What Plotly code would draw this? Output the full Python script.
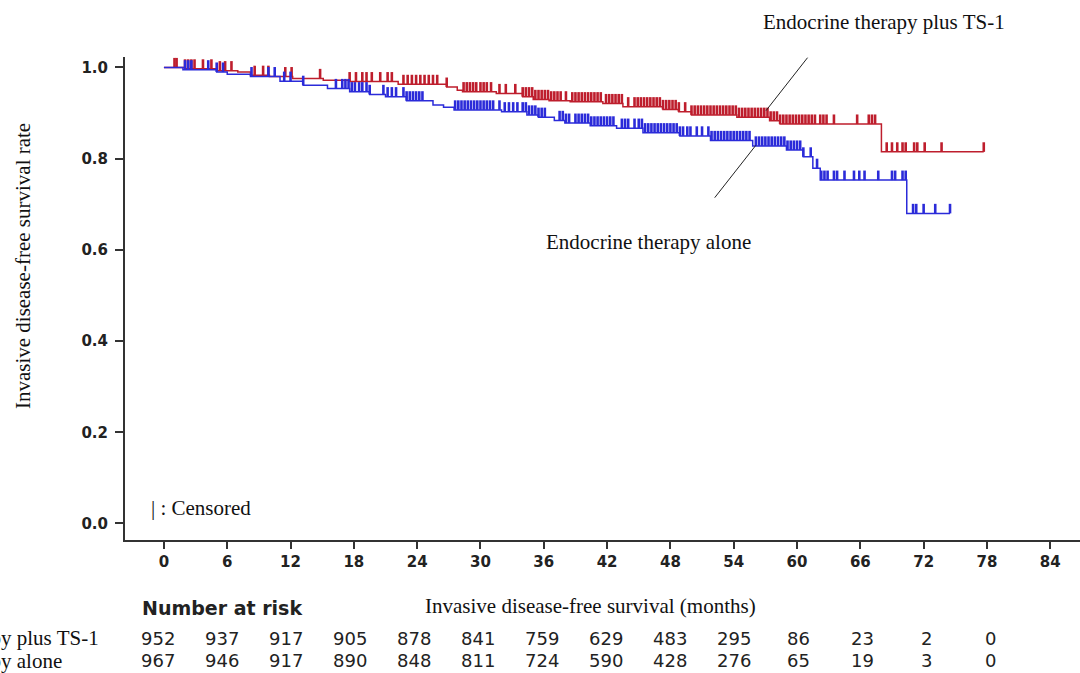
import plotly.graph_objects as go

# ---------------- data ----------------
# Kaplan-Meier step functions: time of each step (months) and survival after it
ts1_times = [0, 2.0, 5.0, 7.0, 8.2, 10.0, 12.2, 15.1, 17.6, 22.2, 26.8, 27.8, 28.3,
             31.5, 34.0, 35.0, 36.5, 38.5, 41.6, 43.5, 47.3, 48.8, 50.0, 54.3,
             57.4, 58.4, 68.0]
ts1_surv = [1.0, 0.997, 0.993, 0.990, 0.983, 0.980, 0.976, 0.972, 0.969, 0.963,
            0.957, 0.950, 0.947, 0.943, 0.936, 0.930, 0.927, 0.925, 0.921, 0.914,
            0.908, 0.903, 0.896, 0.891, 0.883, 0.876, 0.815]
ts1_last = 77.7

alone_times = [0, 1.8, 5.0, 6.0, 8.2, 11.0, 13.2, 15.5, 17.6, 19.5, 21.0, 23.0,
               25.5, 26.5, 27.5, 32.0, 34.4, 35.5, 37.0, 38.0, 40.4, 42.9, 45.4,
               48.9, 51.8, 55.8, 59.0, 60.6, 61.5, 62.2, 70.4]
alone_surv = [1.0, 0.995, 0.990, 0.985, 0.980, 0.970, 0.961, 0.954, 0.947, 0.941,
              0.936, 0.927, 0.918, 0.913, 0.907, 0.903, 0.896, 0.891, 0.884, 0.878,
              0.872, 0.867, 0.857, 0.850, 0.840, 0.828, 0.819, 0.804, 0.779, 0.753,
              0.680]
alone_last = 74.5

# censoring times (months)
ts1_censor = [1.0, 1.2, 2.0, 2.3, 2.6, 2.9, 3.7, 4.5, 5.3, 5.8, 6.4, 8.6, 9.4, 9.9,
              11.5, 12.1, 14.8, 17.6, 18.2, 18.8, 19.2, 19.7, 20.5, 21.2, 21.6,
              22.7, 23.1, 23.5, 23.9, 24.3, 24.7, 25.1, 25.5, 25.9, 26.8, 28.4, 28.7,
              29.0, 29.3, 29.6, 30.0, 30.3, 30.6, 31.0, 31.8, 32.4, 33.3, 34.0,
              34.3, 34.6, 34.9, 35.2, 35.5, 35.8, 36.1, 36.4, 36.7, 37.0, 37.3, 37.6,
              38.1, 38.7, 39.0, 39.3, 39.6, 39.9, 40.2, 40.5, 40.8, 41.1, 41.4,
              41.9, 42.2, 42.5, 42.8, 43.1, 43.4, 44.0, 44.6, 44.9, 45.2, 45.5, 45.8,
              46.1, 46.4, 46.7, 47.0, 47.3, 47.6, 47.9, 48.2, 48.5, 48.8, 49.4,
              50.0, 50.3, 50.6, 50.9, 51.2, 51.5, 51.8, 52.1, 52.4, 52.7, 53.0, 53.3,
              53.6, 53.9, 54.2, 54.5, 54.8, 55.1, 55.4, 55.7, 56.0, 56.3, 56.6, 56.9,
              57.2, 57.5, 57.8, 58.1, 58.4, 58.7, 59.0, 59.3, 59.6, 59.9, 60.2, 60.5,
              60.8, 61.1, 61.4, 61.7, 62.2, 62.5, 62.8, 63.5, 65.7, 66.8, 67.1, 67.4,
              68.5, 69.0, 69.5, 70.0, 70.3, 71.1, 71.4, 72.1, 73.7, 77.7]
alone_censor = [2.0, 2.3, 2.6, 4.2, 5.0, 5.6, 8.3, 9.9, 10.5, 11.4, 12.0, 13.2, 16.3,
                16.9, 17.2, 17.5, 17.8, 18.1, 18.5, 18.8, 19.2, 19.5, 20.8, 21.2,
                21.6, 22.0, 22.7, 23.0, 23.3, 23.6, 23.9, 24.2, 24.5, 27.6, 27.9,
                28.2, 28.5, 28.8, 29.1, 29.4, 29.7, 30.0, 30.3, 30.6, 30.9, 31.2,
                31.8, 32.3, 32.7, 33.1, 33.5, 34.0, 34.3, 34.6, 34.9, 35.2, 35.5,
                35.8, 36.1, 37.5, 37.8, 38.1, 38.4, 39.0, 39.3, 39.6, 39.9, 40.2,
                40.5, 40.8, 41.1, 41.4, 41.7, 42.0, 42.3, 42.6, 43.4, 43.7, 44.0,
                44.6, 45.0, 45.3, 45.6, 45.9, 46.2, 46.5, 46.8, 47.1, 47.4, 47.7,
                48.0, 48.3, 48.6, 48.9, 49.2, 49.6, 49.9, 50.5, 51.0, 51.6, 51.9,
                52.2, 52.5, 52.8, 53.1, 53.4, 53.7, 54.0, 54.3, 54.6, 54.9, 55.2,
                55.5, 56.1, 56.4, 56.7, 57.0, 57.3, 57.6, 57.9, 58.2, 58.5, 58.8,
                59.1, 59.4, 59.7, 60.0, 60.3, 60.6, 61.3, 61.9, 62.3, 62.6, 62.9,
                63.5, 63.8, 64.5, 65.4, 65.9, 66.4, 67.7, 69.0, 69.3, 70.0, 70.3,
                71.0, 71.3, 72.0, 73.1, 74.5]

x_ticks = [0, 6, 12, 18, 24, 30, 36, 42, 48, 54, 60, 66, 72, 78, 84]
y_ticks = [0.0, 0.2, 0.4, 0.6, 0.8, 1.0]

risk_months = [0, 6, 12, 18, 24, 30, 36, 42, 48, 54, 60, 66, 72, 78]
risk_ts1 = [952, 937, 917, 905, 878, 841, 759, 629, 483, 295, 86, 23, 2, 0]
risk_alone = [967, 946, 917, 890, 848, 811, 724, 590, 428, 276, 65, 19, 3, 0]

label_ts1 = "Endocrine therapy plus TS-1"
label_alone = "Endocrine therapy alone"

# ---------------- style ----------------
RED = "#BE1E2D"
BLUE = "#2B2BD9"
AXIS = "#333333"
SERIF = "Liberation Serif"
SANS = "DejaVu Sans"
TICK_H = 0.021


def surv_at(times, surv, t):
    s = surv[0]
    for ti, si in zip(times, surv):
        if ti <= t:
            s = si
        else:
            break
    return s


def censor_segments(times, surv, cens):
    xs, ys = [], []
    for c in cens:
        s = surv_at(times, surv, c)
        xs += [c, c, None]
        ys += [s, s + TICK_H, None]
    return xs, ys


fig = go.Figure()
for times, surv, last, cens, col in [
    (ts1_times, ts1_surv, ts1_last, ts1_censor, RED),
    (alone_times, alone_surv, alone_last, alone_censor, BLUE),
]:
    fig.add_trace(go.Scatter(x=times + [last], y=surv + [surv[-1]], mode="lines",
                             line=dict(color=col, width=1.5, shape="hv"),
                             hoverinfo="skip"))
    cx, cy = censor_segments(times, surv, cens)
    fig.add_trace(go.Scatter(x=cx, y=cy, mode="lines",
                             line=dict(color=col, width=2.6), hoverinfo="skip"))

# pointer lines
fig.add_shape(type="line", xref="x", yref="y", x0=61.0, y0=1.0215, x1=57.06, y1=0.9053,
              line=dict(color="#222", width=1))
fig.add_shape(type="line", xref="x", yref="y", x0=56.1, y0=0.8294, x1=52.2, y1=0.7145,
              line=dict(color="#222", width=1))

ann = []
serif = dict(family=SERIF, size=21, color="#111")
ann.append(dict(text=label_ts1, xref="paper", yref="paper", x=0.795, y=1.0725,
                xanchor="center", yanchor="middle", showarrow=False, font=serif))
ann.append(dict(text=label_alone, xref="paper", yref="paper", x=0.5486, y=0.617,
                xanchor="center", yanchor="middle", showarrow=False, font=serif))
ann.append(dict(text="| : Censored", xref="paper", yref="paper", x=0.0251, y=0.0663,
                xanchor="left", yanchor="middle", showarrow=False, font=serif))
ann.append(dict(text="Invasive disease-free survival rate", xref="paper", yref="paper",
                x=-0.1067, y=0.5673, xanchor="center", yanchor="middle", textangle=-90,
                showarrow=False, font=serif))
ann.append(dict(text="Invasive disease-free survival (months)", xref="paper",
                yref="paper", x=0.4874, y=-0.1366, xanchor="center", yanchor="middle",
                showarrow=False, font=serif))
ann.append(dict(text="<b>Number at risk</b>", xref="paper", yref="paper", x=0.0157,
                y=-0.1408, xanchor="left", yanchor="middle", showarrow=False,
                font=dict(family=SANS, size=19, color="#222")))
row_y = [-0.2030, -0.2505]
ann.append(dict(text=label_ts1, xref="paper", yref="paper", x=(101 - 125) / 955,
                y=row_y[0], xanchor="right", yanchor="middle", showarrow=False, font=serif))
ann.append(dict(text=label_alone, xref="paper", yref="paper", x=(64 - 125) / 955,
                y=row_y[1], xanchor="right", yanchor="middle", showarrow=False, font=serif))
for m, a, b in zip(risk_months, risk_ts1, risk_alone):
    shift = -5.7 + 0.12 * m
    for val, yy in [(a, row_y[0]), (b, row_y[1])]:
        ann.append(dict(text=str(val), xref="x", yref="paper", x=m, y=yy,
                        xshift=shift, xanchor="center", yanchor="middle",
                        showarrow=False, font=dict(family=SANS, size=18, color="#222")))

fig.update_layout(
    width=1080, height=673,
    margin=dict(l=125, r=0, t=57, b=133),
    plot_bgcolor="white", paper_bgcolor="white",
    showlegend=False,
    annotations=ann,
    xaxis=dict(range=[-3.69, 86.82], tickvals=x_ticks, ticks="outside", ticklen=7,
               tickwidth=1.5, tickcolor=AXIS, showline=True, linecolor=AXIS,
               linewidth=2, showgrid=False, zeroline=False,
               tickfont=dict(family=SANS, size=15, color="#222", weight="bold")),
    yaxis=dict(range=[-0.0362, 1.023], tickvals=y_ticks, tickformat=".1f",
               ticks="outside", ticklen=8, tickwidth=1.5, tickcolor=AXIS,
               showline=True, linecolor=AXIS, linewidth=2, showgrid=False,
               zeroline=False, ticklabelstandoff=4,
               tickfont=dict(family=SANS, size=15, color="#222", weight="bold")),
)

fig.write_html("out.html",
               config={"displayModeBar": False},
               post_script="document.body.style.margin='0';"
                           "document.body.style.overflow='hidden';")
